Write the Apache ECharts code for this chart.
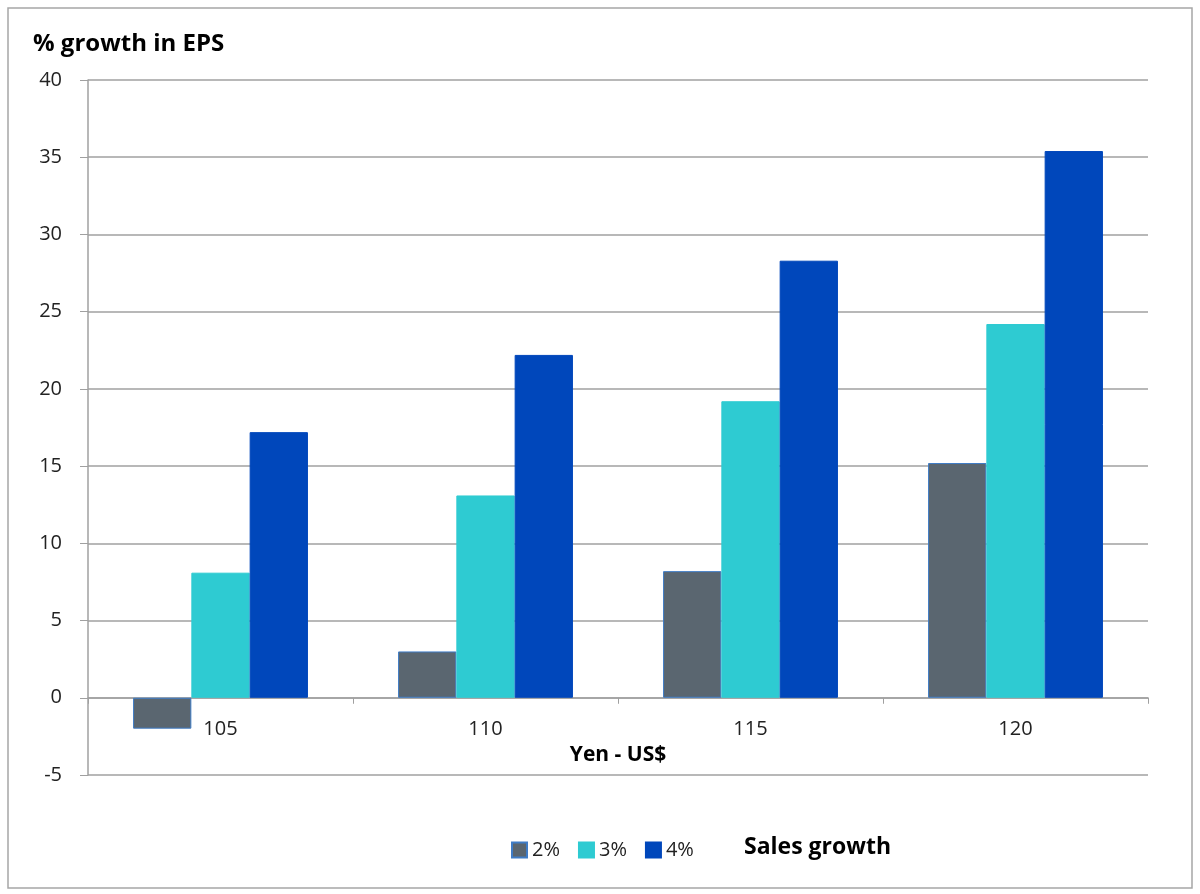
<!DOCTYPE html>
<html>
<head>
<meta charset="utf-8">
<script src="https://cdn.jsdelivr.net/npm/echarts@6/dist/echarts.min.js"></script>
<style>
  html, body { margin: 0; padding: 0; background: #fff; }
  #chart { width: 1200px; height: 894px; }
</style>
</head>
<body>
<div id="chart"></div>
<script>
const categories = ["105", "110", "115", "120"];
const seriesNames = ["2%", "3%", "4%"];
const growth2 = [-2.0, 3.0, 8.2, 15.2];
const growth3 = [8.1, 13.1, 19.2, 24.2];
const growth4 = [17.2, 22.2, 28.3, 35.4];
const yTicks = { min: -5, max: 40, interval: 5 };

const font = "'Open Sans', 'Noto Sans', sans-serif";
const colors = ["#5a6670", "#2ecbd2", "#0047bb"];
const borders = ["#3f7cc6", "#2ecbd2", "#0047bb"];

const gridTop = 80, gridBottom = 119, height = 894;
const plotH = height - gridTop - gridBottom;
// move the category axis up from the grid bottom to the zero line
const zeroOffset = -plotH * (0 - yTicks.min) / (yTicks.max - yTicks.min);

const chart = echarts.init(document.getElementById("chart"));

chart.setOption({
  animation: false,
  textStyle: { fontFamily: font },
  grid: { left: 88, right: 52, top: gridTop, bottom: gridBottom },
  graphic: [
    {
      type: "rect",
      shape: { x: 8, y: 8, width: 1184, height: 880 },
      style: { fill: "none", stroke: "#a6a6a6", lineWidth: 1.5 }
    },
    {
      type: "text",
      left: 33, top: 32,
      style: { text: "% growth in EPS", font: "bold 24px " + font, fill: "#000" }
    },
    {
      type: "text",
      left: 744, top: 836,
      style: { text: "Sales growth", font: "bold 23px " + font, fill: "#000" }
    }
  ],
  legend: {
    data: seriesNames,
    left: 506,
    top: 835,
    itemWidth: 15,
    itemHeight: 15,
    itemGap: 18,
    icon: "rect",
    textStyle: { fontSize: 20, color: "#222", fontFamily: font }
  },
  xAxis: {
    type: "category",
    data: categories,
    offset: zeroOffset,
    name: "Yen - US$",
    nameLocation: "middle",
    nameGap: 47,
    nameTextStyle: { fontSize: 21, fontWeight: "bold", color: "#000" },
    axisLine: { onZero: false, lineStyle: { color: "#a0a0a0", width: 1.5 } },
    axisTick: { show: true, length: 6, lineStyle: { color: "#a0a0a0" } },
    axisLabel: { fontSize: 20, color: "#222", margin: 22 }
  },
  yAxis: {
    type: "value",
    min: yTicks.min,
    max: yTicks.max,
    interval: yTicks.interval,
    axisLine: { show: true, lineStyle: { color: "#a0a0a0", width: 1.5 } },
    axisTick: { show: true, length: 8, lineStyle: { color: "#a0a0a0" } },
    axisLabel: { fontSize: 20, color: "#222", margin: 26 },
    splitLine: { lineStyle: { color: "#a0a0a0", width: 1.5 } }
  },
  series: [growth2, growth3, growth4].map((vals, i) => ({
    name: seriesNames[i],
    type: "bar",
    data: vals,
    barGap: "0%",
    barCategoryGap: "34%",
    itemStyle: { color: colors[i], borderColor: borders[i], borderWidth: 1 }
  }))
});
</script>
</body>
</html>
